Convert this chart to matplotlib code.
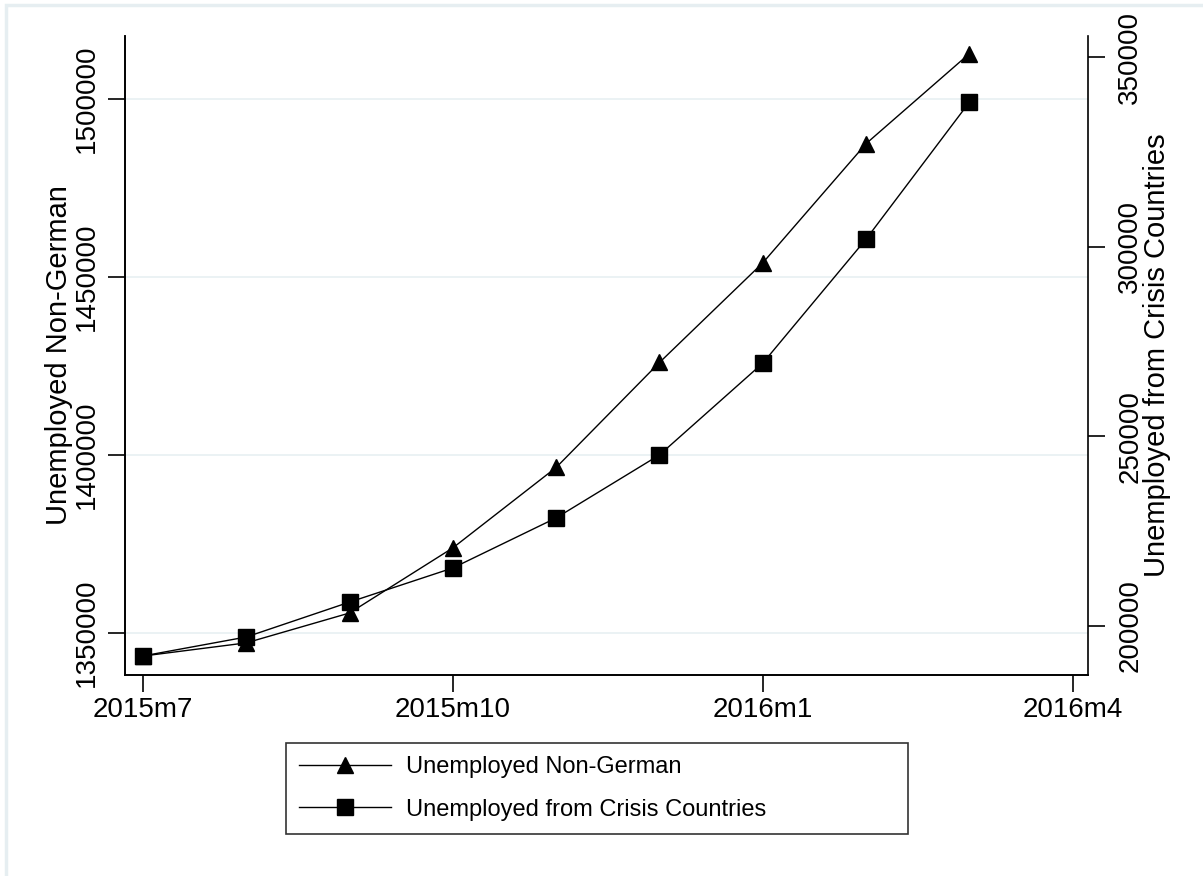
import numpy as np
import matplotlib
matplotlib.use("Agg")
import matplotlib.pyplot as plt
from matplotlib.patches import Rectangle

plt.rcParams['font.family'] = ['Liberation Sans', 'DejaVu Sans']

# monthly data, 2015m7 .. 2016m3
months = ['2015m7', '2015m8', '2015m9', '2015m10', '2015m11', '2015m12',
          '2016m1', '2016m2', '2016m3']
non_german = [1343500, 1347200, 1355600, 1373900, 1396500, 1426000,
              1454000, 1487500, 1512800]
crisis = [192100, 197100, 206300, 215300, 228500, 245100,
          269300, 302000, 338100]

xtick_labels = ['2015m7', '2015m10', '2016m1', '2016m4']
left_ticks = [1350000, 1400000, 1450000, 1500000]
right_ticks = [200000, 250000, 300000, 350000]

W, H = 1203, 876
fig = plt.figure(figsize=(W / 100, H / 100), dpi=100)
ax = fig.add_axes([125 / W, 1 - 675 / H, (1088 - 125) / W, (675 - 36) / H])
ax2 = ax.twinx()

x = np.arange(len(months))
l1, = ax.plot(x, non_german, color='black', lw=1, marker='^', ms=11,
              label='Unemployed Non-German')
l2, = ax2.plot(x, crisis, color='black', lw=1, marker='s', ms=11,
               label='Unemployed from Crisis Countries')

ax.set_xlim(-0.174, 9.148)
ax.set_ylim(1338170, 1517750)
ax2.set_ylim(187080, 355540)

ax.set_xticks([0, 3, 6, 9])
ax.set_xticklabels(xtick_labels)
ax.set_yticks(left_ticks)
ax.set_yticklabels([str(v) for v in left_ticks], rotation=90, va='center')
ax2.set_yticks(right_ticks)
ax2.set_yticklabels([str(v) for v in right_ticks], rotation=90, va='center')

ax.grid(axis='y', color='#e8f0f2', lw=1.2)
ax.set_axisbelow(True)

for a in (ax, ax2):
    a.spines['top'].set_visible(False)
    a.tick_params(length=12, width=1.2, labelsize=20, colors='black', pad=4)
    for s in a.spines.values():
        s.set_linewidth(1.2)
ax.spines['right'].set_visible(False)
ax.tick_params(axis='y', pad=6)
ax2.tick_params(axis='y', pad=9)

ax.set_ylabel('Unemployed Non-German', fontsize=21, labelpad=1)
ax2.set_ylabel('Unemployed from Crisis Countries', fontsize=21, labelpad=0)

leg = fig.legend(handles=[l1, l2], loc='center', mode='expand',
                 bbox_to_anchor=(286 / W, 1 - 837 / H, 622 / W, 97 / H),
                 borderaxespad=0, fontsize=17, handlelength=3.9,
                 frameon=True, fancybox=False, borderpad=0.55,
                 labelspacing=0.85, handletextpad=0.65)
leg.get_frame().set_edgecolor('black')
leg.get_frame().set_linewidth(1.2)

# light outer frame
fig.patches.append(Rectangle((6 / W, -0.1), 1.2, 1 - 5 / H + 0.1,
                             transform=fig.transFigure, fill=False,
                             edgecolor='#e6eef1', lw=2.5))

fig.savefig('out.png', dpi=100)
